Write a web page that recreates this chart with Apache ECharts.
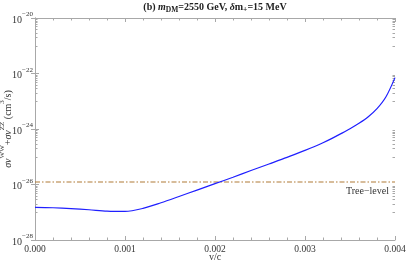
<!DOCTYPE html>
<html>
<head>
<meta charset="utf-8">
<script src="https://cdn.jsdelivr.net/npm/echarts@6/dist/echarts.min.js"></script>
<style>html,body{margin:0;padding:0;background:#fff}#c{width:407px;height:266px}</style>
</head>
<body>
<div id="c"></div>
<script>
// ---- data (cm^3/s) ----
const vValues = [0, 0.0002, 0.0004, 0.0006, 0.0008, 0.001, 0.0012, 0.0014, 0.0016, 0.0018, 0.002, 0.0022, 0.0024, 0.0026, 0.0028, 0.003, 0.0031, 0.0032, 0.0033, 0.0034, 0.0035, 0.0036, 0.0037, 0.0038, 0.0039, 0.004];
const sigmaValues = [1.51e-27, 1.45e-27, 1.35e-27, 1.23e-27, 1.10e-27, 1.07e-27, 1.38e-27, 2.2e-27, 3.7e-27, 6.3e-27, 1.07e-26, 1.82e-26, 3.2e-26, 5.5e-26, 9.5e-26, 1.7e-25, 2.3e-25, 3.2e-25, 4.6e-25, 6.8e-25, 1.02e-24, 1.6e-24, 2.7e-24, 5.4e-24, 1.45e-23, 7.1e-23];
const treeLevelV = [0, 0.004];
const treeLevelValues = [1.23e-26, 1.23e-26];
const xTickLabels = ['0.000', '0.001', '0.002', '0.003', '0.004'];
const yLabelExponents = [-28, -26, -24, -22, -20];
const yMinorDecades = [-27, -25, -23, -21];
const yMinorMultipliers = [1, 2, 3, 4, 5, 6, 7, 8, 9];

// ECharts' log scale loses precision near 1e-28, so the axis works in units of 1e-28 cm^3/s
const UNIT_EXP = -28;
const toAxis = s => s * Math.pow(10, -UNIT_EXP);
const FONT = 'Liberation Serif';
const AX = '#a8a8a8';
const TXT = '#333';

const minorTickVals = [];
yMinorDecades.forEach(k => yMinorMultipliers.forEach(m => minorTickVals.push([0, toAxis(m * Math.pow(10, k))])));

const chart = echarts.init(document.getElementById('c'));
const xCommon = {
  type: 'value', min: 0, max: 0.004, interval: 0.001,
  axisLine: { show: true, lineStyle: { color: AX, width: 1 } },
  axisTick: { show: true, inside: true, length: 4, lineStyle: { color: AX } },
  minorTick: { show: true, splitNumber: 5, length: 2.5, lineStyle: { color: AX } },
  splitLine: { show: false }
};
const yCommon = {
  type: 'log', logBase: 10, min: toAxis(1e-28), max: toAxis(1e-20), interval: 2,
  axisLine: { show: true, lineStyle: { color: AX, width: 1 } },
  axisTick: { show: true, inside: true, length: 4, lineStyle: { color: AX } },
  splitLine: { show: false }
};
const supRich = {
  b: { fontFamily: FONT, fontSize: 10, color: TXT, lineHeight: 14, verticalAlign: 'bottom' },
  s: { fontFamily: FONT, fontSize: 7, color: TXT, lineHeight: 8, verticalAlign: 'top' }
};

chart.setOption({
  animation: false,
  backgroundColor: '#fff',
  grid: { left: 35, right: 12, top: 18, bottom: 26, containLabel: false, outerBoundsMode: 'none' },
  xAxis: [
    Object.assign({}, xCommon, {
      position: 'bottom',
      axisLabel: {
        fontFamily: FONT, fontSize: 9.5, color: TXT, margin: 4,
        formatter: v => { const i = Math.round(v / 0.001); return xTickLabels[i] !== undefined ? xTickLabels[i] : ''; }
      },
      name: 'v/c', nameLocation: 'middle', nameGap: 12, nameMoveOverlap: false,
      nameTextStyle: { fontFamily: FONT, fontSize: 10, color: TXT }
    }),
    Object.assign({}, xCommon, { position: 'top', axisLabel: { show: false } })
  ],
  yAxis: [
    Object.assign({}, yCommon, {
      position: 'left',
      axisLabel: {
        margin: 2,
        formatter: v => {
          const e = Math.round(Math.log10(v)) + UNIT_EXP;
          return yLabelExponents.indexOf(e) >= 0 ? '{b|10}{s|\u2212' + (-e) + '}' : '';
        },
        rich: supRich
      },
      name: '{i|\u03c3v}{s|WW}{n|+}{i|\u03c3v}{s|ZZ}{n| (cm}{s|3}{n|/s)}',
      nameLocation: 'middle', nameGap: 22, nameRotate: 90, nameMoveOverlap: false,
      nameTextStyle: {
        rich: {
          i: { fontFamily: FONT, fontStyle: 'italic', fontSize: 10, color: TXT, lineHeight: 14, verticalAlign: 'bottom' },
          n: { fontFamily: FONT, fontSize: 10, color: TXT, lineHeight: 14, verticalAlign: 'bottom' },
          s: { fontFamily: FONT, fontSize: 7, color: TXT, lineHeight: 8, verticalAlign: 'top' }
        }
      }
    }),
    Object.assign({}, yCommon, { position: 'right', axisLabel: { show: false } })
  ],
  series: [
    {
      type: 'line', xAxisIndex: 0, yAxisIndex: 0,
      data: treeLevelV.map((v, i) => [v, toAxis(treeLevelValues[i])]),
      showSymbol: false, silent: true,
      lineStyle: { color: '#b07a36', width: 1.2, type: [5, 2, 1.5, 2] },
      z: 2
    },
    {
      type: 'line', xAxisIndex: 0, yAxisIndex: 0,
      data: vValues.map((v, i) => [v, toAxis(sigmaValues[i])]),
      showSymbol: false, smooth: 0.3, silent: true,
      lineStyle: { color: '#1f1fff', width: 1.2 },
      z: 3
    },
    {
      type: 'custom', xAxisIndex: 0, yAxisIndex: 0, silent: true,
      data: minorTickVals,
      encode: { x: 0, y: 1 },
      renderItem: (params, api) => {
        const y = api.value(1);
        const l = api.coord([0, y]);
        const r = api.coord([0.004, y]);
        const st = { stroke: AX, lineWidth: 1 };
        const yy = Math.round(l[1]) + 0.5;
        return {
          type: 'group', children: [
            { type: 'line', shape: { x1: l[0], y1: yy, x2: l[0] + 2.5, y2: yy }, style: st },
            { type: 'line', shape: { x1: r[0] - 2.5, y1: yy, x2: r[0], y2: yy }, style: st }
          ]
        };
      }
    }
  ],
  graphic: [
    {
      type: 'text', x: 215, y: 7,
      style: {
        text: '{b|(b) }{bi|m}{sub|DM}{b|=2550 GeV, }{bi|\u03b4}{b|m}{sub|+}{b|=15 MeV}',
        align: 'center', verticalAlign: 'middle',
        rich: {
          b: { fontFamily: FONT, fontWeight: 'bold', fontSize: 10, fill: '#222', lineHeight: 14, verticalAlign: 'middle' },
          bi: { fontFamily: FONT, fontWeight: 'bold', fontStyle: 'italic', fontSize: 10, fill: '#222', lineHeight: 14, verticalAlign: 'middle' },
          sub: { fontFamily: FONT, fontWeight: 'bold', fontSize: 7.5, fill: '#222', lineHeight: 10, verticalAlign: 'bottom' }
        }
      }
    },
    {
      type: 'text', x: 389, y: 191,
      style: { text: 'Tree\u2212level', align: 'right', verticalAlign: 'middle', fontFamily: FONT, fontSize: 10, fill: TXT }
    }
  ]
});
</script>
</body>
</html>
